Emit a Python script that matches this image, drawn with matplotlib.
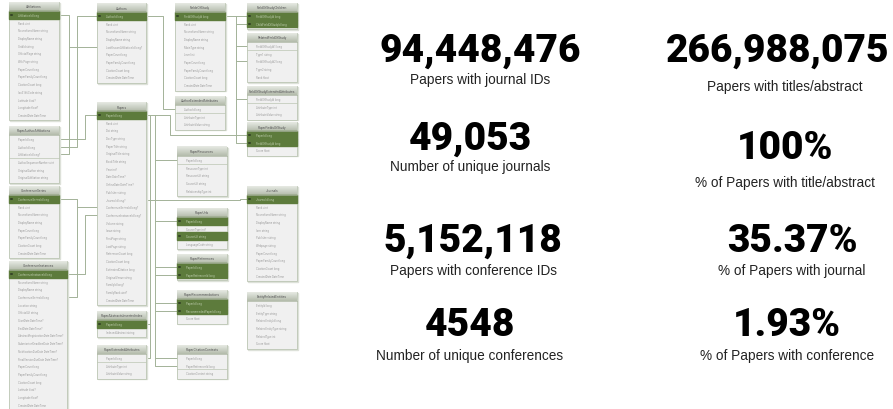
import numpy as np
import matplotlib.pyplot as plt
from matplotlib.patches import Rectangle
from matplotlib.colors import LinearSegmentedColormap

plt.rcParams['font.family'] = ['Roboto', 'DejaVu Sans']

# headline numbers (left column, right column)
left_values = ['94,448,476', '49,053', '5,152,118', '4548']
left_labels = ['Papers with journal IDs', 'Number of unique journals',
               'Papers with conference IDs', 'Number of unique conferences']
right_values = ['266,988,075', '100%', '35.37%', '1.93%']
right_labels = ['Papers with titles/abstract', '% of Papers with title/abstract',
                '% of Papers with journal', '% of Papers with conference']

# schema tables
table_names = ['Affiliations', 'Authors', 'PaperAuthorAffiliations', 'ConferenceSeries',
               'ConferenceInstances', 'Papers', 'PaperAbstractsInvertedIndex',
               'PaperExtendedAttributes', 'FieldsOfStudy', 'AuthorExtendedAttributes',
               'PaperResources', 'PaperUrls', 'PaperReferences', 'PaperRecommendations',
               'PaperCitationContexts', 'FieldOfStudyChildren', 'RelatedFieldOfStudy',
               'FieldOfStudyExtendedAttributes', 'PaperFieldsOfStudy', 'Journals',
               'EntityRelatedEntities']
table_fields = [
    ['AffiliationId long', 'Rank uint', 'NormalizedName string', 'DisplayName string',
     'GridId string', 'OfficialPage string', 'WikiPage string', 'PaperCount long',
     'PaperFamilyCount long', 'CitationCount long', 'Iso3166Code string',
     'Latitude float?', 'Longitude float?', 'CreatedDate DateTime'],
    ['AuthorId long', 'Rank uint', 'NormalizedName string', 'DisplayName string',
     'LastKnownAffiliationId long?', 'PaperCount long', 'PaperFamilyCount long',
     'CitationCount long', 'CreatedDate DateTime'],
    ['PaperId long', 'AuthorId long', 'AffiliationId long?', 'AuthorSequenceNumber uint',
     'OriginalAuthor string', 'OriginalAffiliation string'],
    ['ConferenceSeriesId long', 'Rank uint', 'NormalizedName string', 'DisplayName string',
     'PaperCount long', 'PaperFamilyCount long', 'CitationCount long', 'CreatedDate DateTime'],
    ['ConferenceInstanceId long', 'NormalizedName string', 'DisplayName string',
     'ConferenceSeriesId long', 'Location string', 'OfficialUrl string',
     'StartDate DateTime?', 'EndDate DateTime?', 'AbstractRegistrationDate DateTime?',
     'SubmissionDeadlineDate DateTime?', 'NotificationDueDate DateTime?',
     'FinalVersionDueDate DateTime?', 'PaperCount long', 'PaperFamilyCount long',
     'CitationCount long', 'Latitude float?', 'Longitude float?', 'CreatedDate DateTime'],
    ['PaperId long', 'Rank uint', 'Doi string', 'DocType string', 'PaperTitle string',
     'OriginalTitle string', 'BookTitle string', 'Year int?', 'Date DateTime?',
     'OnlineDate DateTime?', 'Publisher string', 'JournalId long?',
     'ConferenceSeriesId long?', 'ConferenceInstanceId long?', 'Volume string',
     'Issue string', 'FirstPage string', 'LastPage string', 'ReferenceCount long',
     'CitationCount long', 'EstimatedCitation long', 'OriginalVenue string',
     'FamilyId long?', 'FamilyRank uint?', 'CreatedDate DateTime'],
    ['PaperId long', 'IndexedAbstract string'],
    ['PaperId long', 'AttributeType int', 'AttributeValue string'],
    ['FieldOfStudyId long', 'Rank uint', 'NormalizedName string', 'DisplayName string',
     'MainType string', 'Level int', 'PaperCount long', 'PaperFamilyCount long',
     'CitationCount long', 'CreatedDate DateTime'],
    ['AuthorId long', 'AttributeType int', 'AttributeValue string'],
    ['PaperId long', 'ResourceType int', 'ResourceUrl string', 'SourceUrl string',
     'RelationshipType int'],
    ['PaperId long', 'SourceType int?', 'SourceUrl string', 'LanguageCode string'],
    ['PaperId long', 'PaperReferenceId long'],
    ['PaperId long', 'RecommendedPaperId long', 'Score float'],
    ['PaperId long', 'PaperReferenceId long', 'CitationContext string'],
    ['FieldOfStudyId long', 'ChildFieldOfStudyId long'],
    ['FieldOfStudyId1 long', 'Type1 string', 'FieldOfStudyId2 long', 'Type2 string',
     'Rank float'],
    ['FieldOfStudyId long', 'AttributeType int', 'AttributeValue string'],
    ['PaperId long', 'FieldOfStudyId long', 'Score float'],
    ['JournalId long', 'Rank uint', 'NormalizedName string', 'DisplayName string',
     'Issn string', 'Publisher string', 'Webpage string', 'PaperCount long',
     'PaperFamilyCount long', 'CitationCount long', 'CreatedDate DateTime'],
    ['EntityId long', 'EntityType string', 'RelatedEntityId long',
     'RelatedEntityType string', 'RelatedType int', 'Score float'],
]
key_rows = [[0], [0], [], [0], [0], [0], [0], [], [0], [], [], [0, 2], [0, 1], [0, 1],
            [], [0, 1], [], [], [0, 1], [0], []]
sep_after = [1, 1, 3, 1, 1, 1, 1, 1, 1, 1, 1, 1, 2, 2, 2, 2, 1, 1, 2, 1, 0]

# layout (pixel space): left x, top y, width
table_pos = [(9, 3, 50), (97, 4, 49), (9, 127, 50), (9, 187, 50), (9, 262, 58),
             (97, 103, 49), (97, 312, 49), (97, 346, 49), (175, 4, 50), (175, 97, 50),
             (177, 148, 50), (177, 209, 50), (177, 255, 50), (177, 291, 50),
             (177, 346, 50), (247, 4, 50), (247, 34, 50), (247, 87, 50), (247, 123, 50),
             (247, 187, 50), (247, 293, 50)]

HEAD = 9.0
ROW = 7.7
GREEN = '#5d7b3c'
LINE = '#a3b298'
head_cmap = LinearSegmentedColormap.from_list('head', ['#e6e9e3', '#b4bcac'])

fig = plt.figure(figsize=(8.93, 4.10), dpi=100)
ax = fig.add_axes([0, 0, 1, 1])
ax.set_xlim(0, 893)
ax.set_ylim(410, 0)
ax.axis('off')


def row_y(t, i):
    return table_pos[t][1] + HEAD + ROW * i + ROW / 2


# connectors drawn first, under the boxes
def link(pts):
    xs, ys = zip(*pts)
    ax.plot(xs, ys, color=LINE, lw=0.7, zorder=1)


link([(59, row_y(0, 0)), (69, row_y(0, 0)), (69, row_y(2, 2)), (59, row_y(2, 2))])
link([(69, row_y(1, 4)), (97, row_y(1, 4))])
link([(97, row_y(1, 0)), (77, row_y(1, 0)), (77, row_y(2, 1)), (59, row_y(2, 1))])
link([(97, row_y(5, 0)), (85, row_y(5, 0)), (85, row_y(2, 0)), (59, row_y(2, 0))])
link([(59, row_y(3, 0)), (77, row_y(3, 0)), (77, row_y(4, 3)), (67, row_y(4, 3))])
link([(77, row_y(5, 12)), (97, row_y(5, 12))])
link([(67, row_y(4, 0)), (85, row_y(4, 0)), (85, row_y(5, 13)), (97, row_y(5, 13))])
link([(146, row_y(1, 0)), (163, row_y(1, 0)), (163, row_y(9, 0)), (175, row_y(9, 0))])
link([(146, row_y(5, 0)), (155, row_y(5, 0)), (155, row_y(14, 1)), (177, row_y(14, 1))])
link([(155, row_y(5, 0)), (170, row_y(5, 0)), (170, row_y(18, 0)), (247, row_y(18, 0))])
for t, r in [(10, 0), (11, 0), (12, 0), (12, 1), (13, 0), (13, 1), (14, 0)]:
    link([(155, row_y(t, r)), (177, row_y(t, r))])
link([(146, row_y(5, 0)), (150, row_y(5, 0)), (150, row_y(7, 0)), (146, row_y(7, 0))])
link([(150, row_y(6, 0)), (146, row_y(6, 0))])
link([(146, row_y(5, 11)), (240, row_y(5, 11)), (240, row_y(19, 0)), (247, row_y(19, 0))])
link([(225, row_y(8, 0)), (236, row_y(8, 0)), (236, row_y(18, 1)), (247, row_y(18, 1))])
for t, r in [(15, 0), (15, 1), (16, 0), (16, 2), (17, 0)]:
    link([(236, row_y(t, r)), (247, row_y(t, r))])

# tables
grad = np.linspace(0, 1, 20).reshape(-1, 1)
for t, name in enumerate(table_names):
    x0, y0, w = table_pos[t]
    fields = table_fields[t]
    h = HEAD + ROW * len(fields) + 1.5
    ax.add_patch(Rectangle((x0 + 0.8, y0 + 0.8), w, h, color='#dde1d9', zorder=2))
    ax.add_patch(Rectangle((x0, y0), w, h, facecolor='#f0f0f0', edgecolor='#bcc6b3',
                           lw=0.6, zorder=3))
    ax.imshow(grad, extent=(x0, x0 + w, y0 + HEAD, y0), cmap=head_cmap,
              aspect='auto', zorder=4, interpolation='bilinear')
    ax.text(x0 + w / 2, y0 + HEAD / 2, name, fontsize=2.3, color='#5a5a5a',
            ha='center', va='center', zorder=6)
    for i, f in enumerate(fields):
        yc = row_y(t, i)
        if i in key_rows[t]:
            ax.add_patch(Rectangle((x0, yc - ROW / 2), w, ROW, color=GREEN, zorder=4))
            ax.plot([x0 + 1.5, x0 + 3.2], [yc, yc], color='#2a3620', lw=1.1, zorder=5)
            col = '#b9c9a8'
        else:
            col = '#a0a0a0'
        ax.text(x0 + 9, yc, f, fontsize=2.0, color=col, va='center', ha='left', zorder=6)
    if 0 < sep_after[t] < len(fields) and not key_rows[t]:
        ys = y0 + HEAD + ROW * sep_after[t]
        ax.plot([x0, x0 + w], [ys, ys], color='#bcc6b3', lw=0.5, zorder=5)
    ax.plot([x0, x0 + w], [y0 + HEAD, y0 + HEAD], color='#a9b39f', lw=0.5, zorder=5)

# headline stats (baseline positions in pixels)
left_value_y = [62, 150, 252, 336]
right_value_y = [62, 159, 252, 336]
left_label_y = [80, 167, 271, 356]
right_label_y = [87, 183, 271, 356]
left_cx = [480, 470, 473, 470]
right_cx = [778, 785, 792, 787]
label_font = ['Liberation Sans', 'DejaVu Sans']
for i in range(4):
    ax.text(left_cx[i], left_value_y[i], left_values[i], fontsize=28, fontweight=900,
            ha='center', va='baseline', color='black')
    ax.text(left_cx[i], left_label_y[i], left_labels[i], fontsize=9.8, ha='center',
            va='center', color='#222222', family=label_font)
    ax.text(right_cx[i], right_value_y[i], right_values[i], fontsize=28, fontweight=900,
            ha='center', va='baseline', color='black')
    ax.text(right_cx[i] + (7 if i == 0 else 0), right_label_y[i], right_labels[i],
            fontsize=9.8, ha='center', va='center', color='#222222', family=label_font)

fig.savefig('out.png', dpi=100)
